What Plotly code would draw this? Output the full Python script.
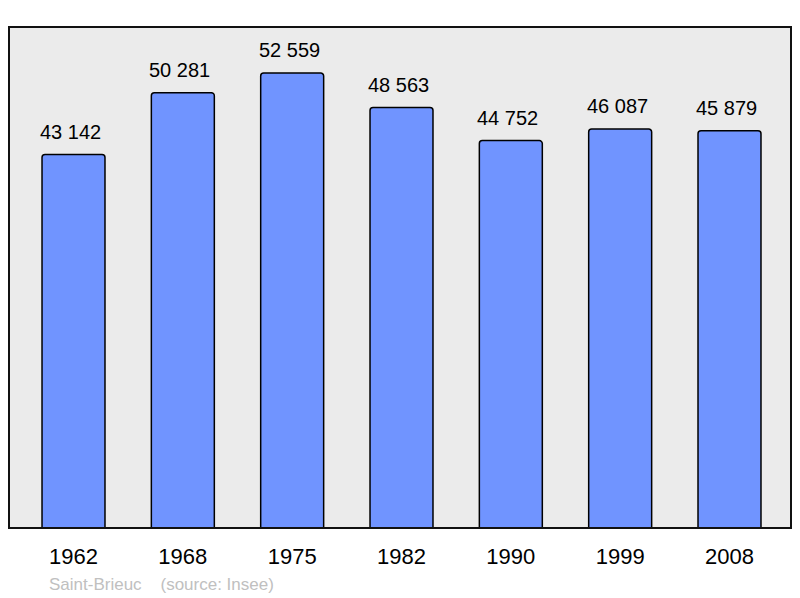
import plotly.graph_objects as go

years = ["1962", "1968", "1975", "1982", "1990", "1999", "2008"]
population = [43142, 50281, 52559, 48563, 44752, 46087, 45879]
labels = ["43 142", "50 281", "52 559", "48 563", "44 752", "46 087", "45 879"]

xpos = list(range(len(years)))
FONT = "Liberation Sans, Arial, sans-serif"

fig = go.Figure()
fig.add_trace(go.Bar(
    x=xpos, y=population, width=0.576,
    marker=dict(color="#7094ff", line=dict(color="black", width=1.5), cornerradius=3),
    hoverinfo="skip",
))

for xi, v, t in zip(xpos, population, labels):
    fig.add_annotation(x=xi, y=v, text=t, showarrow=False, yanchor="bottom",
                       yshift=10, xshift=-3, font=dict(size=20, color="black", family=FONT))

fig.add_annotation(xref="paper", yref="paper", x=0.049, y=-0.112, xanchor="left",
                   yanchor="middle", showarrow=False,
                   text="Saint-Brieuc&nbsp;&nbsp;&nbsp;&nbsp;(source: Insee)",
                   font=dict(size=17, color="#c0c0c0", family=FONT))

fig.add_shape(type="rect", xref="paper", yref="paper", x0=0, y0=0, x1=1, y1=1,
              line=dict(color="#111111", width=2), layer="above")

fig.update_layout(
    width=792, height=590,
    margin=dict(l=1, r=9, t=19, b=70),
    paper_bgcolor="white", plot_bgcolor="#ebebeb",
    showlegend=False,
    font=dict(family=FONT, color="black"),
    xaxis=dict(tickmode="array", tickvals=xpos, ticktext=years, range=[-0.59, 6.5625],
               showgrid=False, zeroline=False, ticks="", tickfont=dict(size=22),
               ticklabelstandoff=13, showline=False, fixedrange=True),
    yaxis=dict(range=[0, 57870], showgrid=False, zeroline=False, showticklabels=False,
               ticks="", showline=False, fixedrange=True),
)

fig.write_html("out.html")
